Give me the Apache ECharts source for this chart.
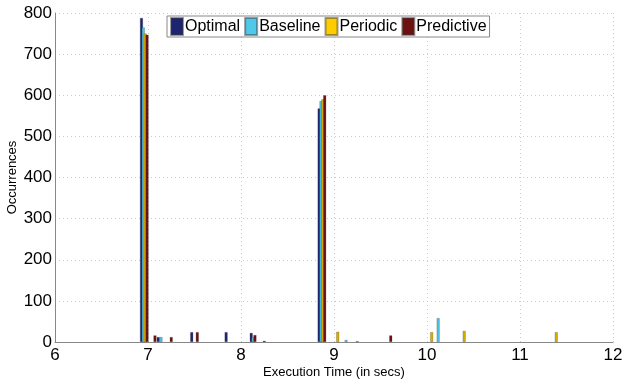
<!DOCTYPE html>
<html>
<head>
<meta charset="utf-8">
<script src="https://cdn.jsdelivr.net/npm/echarts@6/dist/echarts.min.js"></script>
<style>
  html, body { margin: 0; padding: 0; background: #fff; }
  #chart { width: 625px; height: 381px; }
</style>
</head>
<body>
<div id="chart"></div>
<script>
  // [execution time, occurrences] per strategy
  const optimal = [[6.93, 788], [7.11, 12], [7.47, 24], [7.84, 24], [8.11, 22], [8.84, 568], [9.25, 2]]
  const baseline = [[6.95, 765], [7.14, 12], [8.13, 12], [8.86, 586], [9.13, 5], [10.12, 58]]
  const periodic = [[6.97, 750], [8.88, 590], [9.04, 25], [10.05, 24], [10.40, 27], [11.39, 24]]
  const predictive = [[6.99, 747], [7.075, 16], [7.25, 12], [7.53, 24], [8.15, 17], [8.25, 3], [8.90, 600], [9.61, 16]]
  const seriesNames = ['Optimal', 'Baseline', 'Periodic', 'Predictive']

  const chart = echarts.init(document.getElementById('chart'))
  const font = 'Liberation Sans, Arial, sans-serif'

  function barSeries(name, data, color) {
    return {
      name: name,
      type: 'bar',
      barWidth: 3,
      barGap: '-100%',
      itemStyle: { color: color, borderColor: 'rgba(60,60,60,0.5)', borderWidth: 0.5 },
      data: data
    }
  }

  chart.setOption({
    animation: false,
    textStyle: { fontFamily: font },
    grid: { left: 55, right: 12, top: 13, bottom: 39, outerBoundsMode: 'none', containLabel: false },
    legend: {
      left: 167,
      top: 16,
      padding: [1, 3, 1, 3],
      itemGap: 4,
      itemWidth: 12,
      itemHeight: 17,
      icon: 'rect',
      borderColor: '#888',
      borderWidth: 1,
      backgroundColor: '#fff',
      textStyle: { color: '#000', fontSize: 16, fontFamily: font, padding: [0, 0, 0, -3] },
      data: [
        { name: 'Optimal', itemStyle: { color: '#1e2570' } },
        { name: 'Baseline', itemStyle: { color: '#4ec9ea' } },
        { name: 'Periodic', itemStyle: { color: '#ffcc00' } },
        { name: 'Predictive', itemStyle: { color: '#6e1010' } }
      ]
    },
    xAxis: {
      type: 'value',
      min: 6,
      max: 12,
      interval: 1,
      name: 'Execution Time (in secs)',
      nameLocation: 'middle',
      nameGap: 24,
      nameMoveOverlap: false,
      nameTextStyle: { color: '#000', fontSize: 13 },
      axisLine: { lineStyle: { color: '#888' } },
      axisTick: { show: false },
      axisLabel: { color: '#000', fontSize: 17, margin: 5 },
      splitLine: { show: true, lineStyle: { color: '#ccc', type: [1, 3] } }
    },
    yAxis: {
      type: 'value',
      min: 0,
      max: 800,
      interval: 100,
      name: 'Occurrences',
      nameLocation: 'middle',
      nameGap: 36,
      nameMoveOverlap: false,
      nameTextStyle: { color: '#000', fontSize: 13 },
      axisLine: { show: true, lineStyle: { color: '#888' } },
      axisTick: { show: false },
      axisLabel: { color: '#000', fontSize: 17, margin: 3 },
      splitLine: { show: true, lineStyle: { color: '#ccc', type: [1, 3] } }
    },
    series: [
      barSeries(seriesNames[0], optimal, '#1e2570'),
      barSeries(seriesNames[1], baseline, '#4bc3e4'),
      barSeries(seriesNames[2], periodic, '#d9ad00'),
      barSeries(seriesNames[3], predictive, '#6e1010')
    ]
  })
</script>
</body>
</html>
